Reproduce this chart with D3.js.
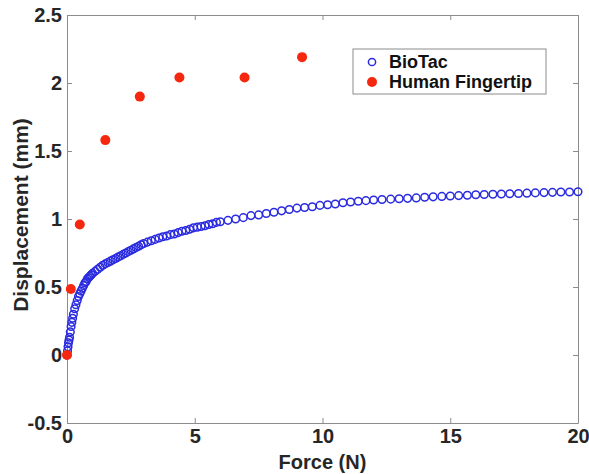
<!DOCTYPE html>
<html>
<head>
<meta charset="utf-8">
<script src="https://cdn.jsdelivr.net/npm/d3@7"></script>
<style>
  body { margin: 0; background: #fff; }
  text { font-family: "Liberation Sans", Arial, sans-serif; font-weight: bold; }
</style>
</head>
<body>
<div id="chart"></div>
<script>
// BioTac displacement against force
var bioForce = [0, 0.02, 0.04, 0.06, 0.08, 0.1, 0.13, 0.16, 0.19, 0.22, 0.25, 0.3, 0.35, 0.4, 0.45, 0.5,
  0.55, 0.6, 0.65, 0.7, 0.75, 0.8, 0.85, 0.9, 0.95, 1.0,
  1.1, 1.2, 1.3, 1.4, 1.5, 1.6, 1.7, 1.8, 1.9, 2.0, 2.1, 2.2, 2.3, 2.4, 2.5, 2.6, 2.7, 2.8, 2.9, 3.0,
  3.15, 3.3, 3.45, 3.6, 3.75, 3.9, 4.05, 4.2, 4.35, 4.5, 4.65, 4.8, 4.95, 5.1, 5.25, 5.4, 5.55, 5.7, 5.85, 6.0,
  6.3, 6.6, 6.9, 7.2, 7.5, 7.8, 8.1, 8.4, 8.7, 9.0, 9.3, 9.6, 9.9, 10.2, 10.5, 10.8, 11.1, 11.4, 11.7, 12.0,
  12.33, 12.67, 13.0, 13.33, 13.67, 14.0, 14.33, 14.67, 15.0, 15.33, 15.67, 16.0, 16.33, 16.67, 17.0,
  17.33, 17.67, 18.0, 18.33, 18.67, 19.0, 19.33, 19.67, 20.0];
var bioDisp = [0, 0.03, 0.06, 0.09, 0.11, 0.13, 0.17, 0.21, 0.24, 0.27, 0.30, 0.34, 0.37, 0.40, 0.43, 0.45,
  0.47, 0.49, 0.51, 0.53, 0.54, 0.56, 0.57, 0.58, 0.59, 0.60,
  0.615, 0.63, 0.645, 0.66, 0.67, 0.68, 0.69, 0.70, 0.71, 0.72, 0.73, 0.74, 0.75, 0.76, 0.77, 0.78, 0.79, 0.80, 0.81, 0.82,
  0.83, 0.84, 0.85, 0.86, 0.87, 0.875, 0.885, 0.89, 0.90, 0.91, 0.915, 0.925, 0.935, 0.94, 0.945, 0.95, 0.96, 0.965, 0.975, 0.98,
  0.99, 1.0, 1.01, 1.025, 1.03, 1.04, 1.05, 1.06, 1.07, 1.08, 1.085, 1.09, 1.10, 1.105, 1.11, 1.12, 1.125, 1.13, 1.135, 1.14,
  1.143, 1.146, 1.149, 1.152, 1.155, 1.16, 1.163, 1.166, 1.169, 1.172, 1.175, 1.178, 1.18, 1.182, 1.184,
  1.186, 1.188, 1.19, 1.192, 1.194, 1.196, 1.198, 1.199, 1.20];

// human fingertip measurements
var humanForce = [0, 0.15, 0.5, 1.5, 2.85, 4.4, 6.95, 9.2];
var humanDisp = [0, 0.485, 0.96, 1.58, 1.9, 2.04, 2.04, 2.19];

var xTicks = [0, 5, 10, 15, 20];
var yTicks = [-0.5, 0, 0.5, 1, 1.5, 2, 2.5];
var legendNames = ["BioTac", "Human Fingertip"];

var W = 589, H = 474;
var margin = {top: 15, right: 11, bottom: 51, left: 67};
var width = W - margin.left - margin.right,
    height = H - margin.top - margin.bottom;

var svg = d3.select("#chart").append("svg")
  .attr("width", W)
  .attr("height", H);

var chart = svg.append("g")
  .attr("transform", "translate(" + margin.left + "," + margin.top + ")");

var x = d3.scaleLinear().domain([0, 20]).range([0, width]);
var y = d3.scaleLinear().domain([-0.5, 2.5]).range([height, 0]);

var axisColor = "#8c8c8c", textColor = "#262626";

// axes, ticks pointing inward like matlab
chart.append("g")
  .attr("transform", "translate(0," + height + ")")
  .call(d3.axisBottom(x).tickValues(xTicks).tickSizeInner(-5).tickSizeOuter(0).tickPadding(6).tickFormat(String));
chart.append("g")
  .call(d3.axisTop(x).tickValues(xTicks).tickSizeInner(-5).tickSizeOuter(0).tickFormat(""));
chart.append("g")
  .call(d3.axisLeft(y).tickValues(yTicks).tickSizeInner(-5).tickSizeOuter(0).tickPadding(5).tickFormat(String));
chart.append("g")
  .attr("transform", "translate(" + width + ",0)")
  .call(d3.axisRight(y).tickValues(yTicks).tickSizeInner(-5).tickSizeOuter(0).tickFormat(""));

chart.selectAll(".domain, .tick line").attr("stroke", axisColor);
chart.selectAll(".tick text")
  .attr("fill", textColor)
  .style("font-size", "20px");

// axis labels
chart.append("text")
  .attr("x", width / 2)
  .attr("y", height + 46)
  .attr("text-anchor", "middle")
  .attr("fill", textColor)
  .style("font-size", "20px")
  .text("Force (N)");

chart.append("text")
  .attr("transform", "translate(" + (-39) + "," + (height / 2 - 4) + ") rotate(-90)")
  .attr("text-anchor", "middle")
  .attr("fill", textColor)
  .style("font-size", "21px")
  .text("Displacement (mm)");

var blue = "#2a2ae0", red = "#f5280f";

// biotac open circles
chart.selectAll(".bio")
  .data(d3.range(bioForce.length))
  .enter().append("circle")
    .attr("class", "bio")
    .attr("cx", function(i) { return x(bioForce[i]); })
    .attr("cy", function(i) { return y(bioDisp[i]); })
    .attr("r", 3.8)
    .attr("fill", "none")
    .attr("stroke", blue)
    .attr("stroke-width", 1.5);

// human fingertip filled dots
chart.selectAll(".human")
  .data(d3.range(humanForce.length))
  .enter().append("circle")
    .attr("class", "human")
    .attr("cx", function(i) { return x(humanForce[i]); })
    .attr("cy", function(i) { return y(humanDisp[i]); })
    .attr("r", 5)
    .attr("fill", red);

// legend
var legend = svg.append("g").attr("transform", "translate(353,49)");
legend.append("rect")
  .attr("width", 193)
  .attr("height", 45)
  .attr("fill", "#fff")
  .attr("stroke", axisColor);

legendNames.forEach(function(name, i) {
  var row = legend.append("g").attr("transform", "translate(0," + (13 + i * 20) + ")");
  if (i == 0) {
    row.append("circle").attr("cx", 19).attr("cy", 0).attr("r", 3.6)
      .attr("fill", "none").attr("stroke", blue).attr("stroke-width", 1.5);
  } else {
    row.append("circle").attr("cx", 19).attr("cy", 0).attr("r", 5).attr("fill", red);
  }
  row.append("text")
    .attr("x", 36)
    .attr("y", 6)
    .attr("fill", "#111")
    .style("font-size", "18px")
    .text(name);
});
</script>
</body>
</html>
